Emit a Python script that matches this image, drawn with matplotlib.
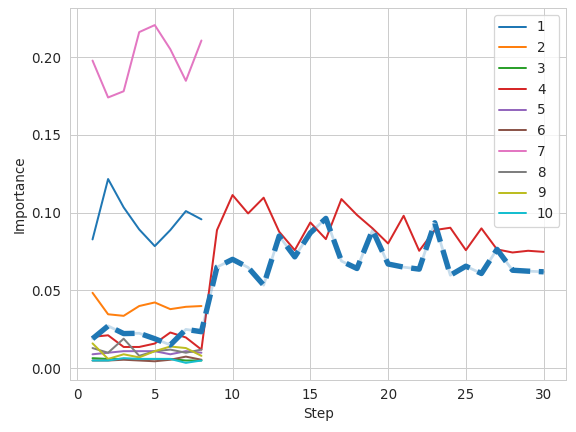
import numpy as np
import seaborn as sns
from matplotlib import pyplot as plt

sns.set_style("whitegrid")
plt.rcParams['font.size'] = 10.8
plt.rcParams['lines.linewidth'] = 1.6

steps_long = list(range(1, 31))

series = {
    '1': [0.0828, 0.1216, 0.1034, 0.0892, 0.0785, 0.0888, 0.1010, 0.0957],
    '2': [0.0485, 0.0347, 0.0337, 0.0400, 0.0423, 0.0380, 0.0395, 0.0400],
    '3': [0.0065, 0.0060, 0.0060, 0.0060, 0.0060, 0.0060, 0.0050, 0.0050],
    '4': [0.0202, 0.0212, 0.0137, 0.0137, 0.0159, 0.0230, 0.0198, 0.0120,
          0.0888, 0.1113, 0.0995, 0.1096, 0.0877, 0.0759, 0.0937, 0.0830,
          0.1087, 0.0985, 0.0899, 0.0802, 0.0980, 0.0755, 0.0888, 0.0903,
          0.0759, 0.0899, 0.0764, 0.0744, 0.0755, 0.0748],
    '5': [0.0090, 0.0100, 0.0110, 0.0110, 0.0110, 0.0090, 0.0110, 0.0100],
    '6': [0.0050, 0.0050, 0.0055, 0.0050, 0.0045, 0.0055, 0.0075, 0.0055],
    '7': [0.1977, 0.1740, 0.1780, 0.2160, 0.2205, 0.2050, 0.1847, 0.2106],
    '8': [0.0130, 0.0100, 0.0190, 0.0080, 0.0110, 0.0120, 0.0100, 0.0120],
    '9': [0.0160, 0.0060, 0.0090, 0.0070, 0.0110, 0.0140, 0.0130, 0.0080],
    '10': [0.0050, 0.0050, 0.0065, 0.0060, 0.0060, 0.0060, 0.0035, 0.0050],
}

overall = [0.0190, 0.0272, 0.0223, 0.0225, 0.0190, 0.0150, 0.0250, 0.0235,
           0.0650, 0.0700, 0.0648, 0.0534, 0.0850, 0.0716, 0.0870, 0.0963,
           0.0689, 0.0641, 0.0888, 0.0670, 0.0650, 0.0637, 0.0935, 0.0598,
           0.0656, 0.0609, 0.0764, 0.0630, 0.0624, 0.0620]

fig, ax = plt.subplots(figsize=(6.4, 4.8), dpi=90)
fig.subplots_adjust(left=0.1215, right=0.983, top=0.981, bottom=0.121)

for name, vals in series.items():
    ax.plot(range(1, len(vals) + 1), vals, label=name)

ax.plot(steps_long, overall, color='tab:blue', alpha=0.25, linewidth=2.2)
ax.plot(steps_long, overall, color='tab:blue', linestyle='--', linewidth=4.3)

ax.set_xlabel("Step")
ax.set_ylabel("Importance")
ax.legend(loc='upper right')

plt.savefig("out.png")
